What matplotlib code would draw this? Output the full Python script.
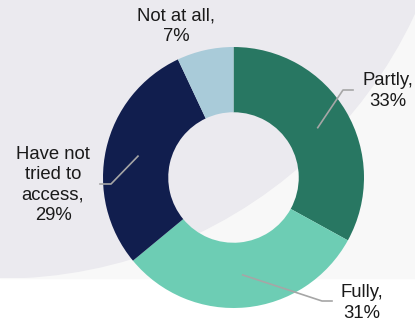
import matplotlib.pyplot as plt
import numpy as np
from matplotlib.patches import Circle, Rectangle

categories = ["Partly", "Fully", "Have not\ntried to\naccess", "Not at all"]
shares = [33, 31, 29, 7]
colors = ["#287762", "#6dcdb4", "#111e4e", "#a9cbd9"]

W, H = 415, 321
plt.rcParams["font.family"] = ["Liberation Sans", "DejaVu Sans"]

fig = plt.figure(figsize=(W / 100, H / 100), dpi=100)
ax = fig.add_axes([0, 0, 1, 1])

# background: pale panel with a big grey arc
panel = Rectangle((0, 43), W, H - 43, color="#f8f8f8", zorder=0)
ax.add_patch(panel)
bg = Circle((0, 500), 457, color="#ebeaef", zorder=0)
ax.add_patch(bg)
bg.set_clip_path(Rectangle((0, 43), W, H - 43, transform=ax.transData))

cx, cy, r = 233.5, 143.5, 130.5
wedges, _ = ax.pie(shares, colors=colors, startangle=90, counterclock=False,
                   center=(cx, cy), radius=r, frame=True,
                   wedgeprops=dict(width=r * 0.5, linewidth=0))
ax.set_xlim(0, W)
ax.set_ylim(0, H)
ax.set_aspect("equal")
ax.axis("off")

# label text positions, elbow and end of leader lines
label_pos = [(388, 230), (362, 18), (53, 136), (176, 295)]
elbows = [((343, 231), (353, 231)), ((322, 20), (332, 20)), ((111, 137), (100, 137)), None]

for w, name, val, pos, elb in zip(wedges, categories, shares, label_pos, elbows):
    ax.text(pos[0], pos[1], f"{name},\n{val}%", ha="center", va="center",
            fontsize=13.3, color="#1a1a1a", linespacing=1.27, zorder=5)
    if elb is None:
        continue
    ang = np.deg2rad((w.theta1 + w.theta2) / 2)
    sx, sy = cx + 0.75 * r * np.cos(ang), cy + 0.75 * r * np.sin(ang)
    ax.plot([sx, elb[0][0], elb[1][0]], [sy, elb[0][1], elb[1][1]],
            color="#a6a6a6", linewidth=1.2, zorder=4)

fig.savefig("out.png", dpi=100)
